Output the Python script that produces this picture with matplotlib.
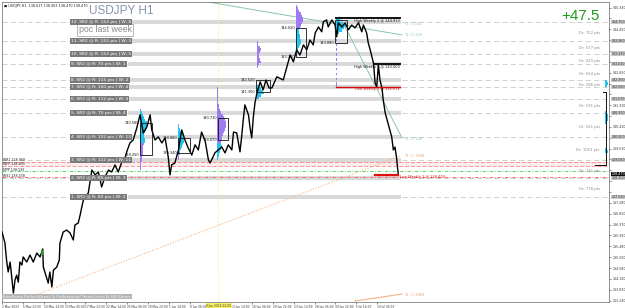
import matplotlib
matplotlib.use("Agg")
import matplotlib.pyplot as plt
from matplotlib.patches import Rectangle

plt.rcParams['font.family'] = ['Liberation Sans Narrow', 'DejaVu Sans']

# H1 bar number (since 2 May 2023) and price
bar_idx = [0, 9, 14, 19, 25, 35, 40, 45, 50, 55, 61, 65, 76, 86, 96, 107, 117, 125, 127,
           137, 142, 147, 153, 158, 168, 176, 178, 188, 199, 209, 219, 224, 234, 240, 245,
           250, 265, 276, 286, 296, 306, 316, 327, 337, 347, 357, 368, 378, 383, 393, 403,
           414, 424, 434, 445, 455, 460, 470, 480, 491, 501, 511, 516, 521, 531, 542, 552,
           562, 572, 583, 593, 603, 613, 624, 634, 639, 644, 654, 664, 675, 685, 695, 706,
           711, 721, 731, 736, 741, 746, 757, 762, 767, 772, 777, 783, 793, 802, 811, 820,
           829, 844, 864, 875, 885, 895, 905, 915, 926, 936, 946, 956, 962, 972, 982, 987,
           997, 1002, 1013, 1023, 1028, 1033, 1044, 1054, 1064, 1074, 1084, 1095, 1105, 1110,
           1120, 1125, 1131, 1141, 1146, 1151, 1156, 1161, 1167, 1171, 1177, 1187, 1197, 1202,
           1207, 1212, 1217]
close = [136.07, 135.62, 134.91, 134.42, 134.83, 133.55, 134.09, 134.29, 134.00, 134.83,
         134.71, 135.04, 134.83, 135.12, 134.83, 135.20, 135.04, 135.37, 134.62, 134.17,
         133.96, 134.42, 133.80, 134.50, 134.62, 134.91, 135.62, 136.07, 136.15, 136.03,
         135.74, 136.36, 136.44, 136.77, 137.10, 137.39, 137.68, 138.63, 138.43, 138.55,
         137.93, 138.34, 138.63, 138.55, 138.84, 138.55, 138.96, 139.13, 139.38, 139.75,
         139.87, 140.37, 140.91, 140.16, 140.41, 140.91, 140.29, 139.87, 140.00, 139.75,
         139.96, 139.13, 138.43, 138.84, 138.92, 139.46, 140.29, 139.87, 139.54, 139.25,
         139.67, 139.46, 140.20, 139.83, 139.05, 138.92, 139.05, 139.34, 139.46, 139.58,
         139.34, 139.67, 139.46, 140.20, 140.16, 139.38, 140.00, 140.70, 141.32, 140.91,
         140.37, 139.96, 140.82, 141.40, 141.81, 142.27, 141.94, 142.35, 142.02, 142.02,
         142.48, 142.35, 142.89, 143.38, 143.10, 143.59, 143.38, 143.80, 143.59, 144.00,
         143.80, 144.29, 144.54, 144.34, 144.75, 144.83, 144.54, 144.83, 144.62, 144.13,
         144.71, 144.54, 144.71, 144.42, 144.62, 144.50, 144.71, 144.34, 144.62, 144.29,
         143.88, 143.59, 143.05, 142.23, 142.06, 142.97, 142.35, 142.02, 141.53, 140.99,
         140.49, 140.00, 139.46, 139.58, 139.13, 138.47]

time_labels = ["2 May 2023", "5 May 22:00", "10 May 14:00", "15 May 06:00", "17 May 22:00",
               "22 May 14:00", "25 May 06:00", "29 May 22:00", "1 Jun 14:00", "6 Jun 06:00",
               "8 Jun 22:00", "13 Jun 14:00", "16 Jun 06:00", "20 Jun 22:00", "23 Jun 14:00",
               "28 Jun 06:00", "30 Jun 22:00", "5 Jul 14:00", "10 Jul 06:00"]
price_ticks = [133.240, 133.690, 134.130, 134.580, 135.030, 135.480, 135.930, 136.370,
               136.820, 137.280, 137.720, 138.170, 138.620, 139.070, 139.510, 139.960,
               140.410, 140.860, 141.310, 141.760, 142.200, 142.650, 143.100, 143.550,
               144.000, 144.450, 144.890, 145.340]

zone_prices = [144.75, 143.96, 143.43, 143.01, 142.35, 142.06, 141.57, 140.99, 140.00,
               139.05, 138.30, 137.52]
zone_names = ["12. SR2 @ R: 152 pts | W: 8", "11. SR2 @ R: 152 pts | W: 3",
              "10. SR2 @ R: 152 pts | W: 5", "9. SR2 @ R: 70 pts | W: 1",
              "8. SR2 @ R: 115 pts | W: 2", "7. SR2 @ R: 100 pts | W: 4",
              "6. SR2 @ R: 112 pts | W: 4", "5. SR2 @ R: 70 pts | W: 4",
              "4. SR2 @ R: 102 pts | W: 13", "3. SR2 @ R: 112 pts | W: 11",
              "2. SR2 @ R: 85 pts | W: 3", "1. SR2 @ R: 80 pts | W: 2"]
last_price = 138.47

dr_prices = [144.29, 143.67, 143.14, 142.60, 142.15, 141.28, 140.41, 139.46, 138.59, 137.85]
dr_text = ["Dr: 752 pts", "Dr: 577 pts", "Dr: 420 pts", "Dr: 564 pts", "Dr: 286 pts",
           "Dr: 591 pts", "Dr: 561 pts", "Dr: 1053 pts", "Dr: 721 pts", "Dr: 778 pts"]

# rectangles: left bar, right bar, low, high, top label, bottom label
boxes = [
    (424, 461, 139.25, 140.57, "140.580", "139.250"),
    (541, 578, 139.34, 139.96, "139.960", "139.340"),
    (664, 694, 139.87, 140.78, "140.730", "139.870"),
    (780, 823, 141.86, 142.35, "142.520", "141.350"),
    (903, 934, 143.30, 144.50, "144.020", "143.300"),
    (1023, 1060, 143.88, 144.83, "", "143.880"),
]

# volume profiles: base bar, levels, widths in bars, value area (lo, hi)
p1_levels = [141.1, 141.0, 140.9, 140.8, 140.7, 140.6, 140.5, 140.4, 140.3, 140.2, 140.1, 140.0,
             139.9, 139.8, 139.7, 139.6, 139.5, 139.4, 139.3, 139.2, 139.1, 139.0, 138.9,
             138.8, 138.7, 138.6]
p1_widths = [3, 5, 8, 12, 16, 20, 24, 22, 19, 16, 13, 12, 14, 16, 12, 9, 8, 10, 8, 6, 5, 6, 4,
             3, 2, 1]
p2_levels = [140.5, 140.4, 140.3, 140.2, 140.1, 140.0, 139.9, 139.8, 139.7, 139.6, 139.5,
             139.4, 139.3, 139.2, 139.1, 139.0]
p2_widths = [2, 4, 6, 10, 14, 18, 21, 19, 16, 12, 9, 7, 5, 4, 2, 1]
p3_levels = [142.0, 141.9, 141.8, 141.7, 141.6, 141.5, 141.4, 141.3, 141.2, 141.1, 141.0,
             140.9, 140.8, 140.7, 140.6, 140.5, 140.4, 140.3, 140.2, 140.1, 140.0, 139.9,
             139.8, 139.7, 139.6, 139.5, 139.4, 139.3, 139.2, 139.1]
p3_widths = [2, 2, 2, 2, 2, 3, 3, 4, 6, 9, 13, 17, 21, 24, 26, 27, 26, 24, 21, 18, 16, 14, 12,
             13, 15, 12, 9, 6, 4, 2]
p4_levels = [143.9, 143.8, 143.7, 143.6, 143.5, 143.4, 143.3, 143.2, 143.1, 143.0, 142.9,
             142.1, 142.0, 141.9, 141.8, 141.7, 141.6]
p4_widths = [2, 4, 8, 12, 9, 6, 5, 8, 11, 7, 3, 6, 12, 18, 22, 14, 6]
p5_levels = [145.4, 145.3, 145.2, 145.1, 145.0, 144.9, 144.8, 144.7, 144.6, 144.5, 144.4,
             144.3, 144.2, 144.1, 144.0, 143.9, 143.8, 143.7, 143.6, 143.5, 143.4]
p5_widths = [3, 6, 10, 14, 17, 20, 21, 18, 14, 12, 10, 9, 11, 13, 15, 14, 11, 8, 6, 4, 2]
p6_levels = [144.9, 144.8, 144.7, 144.6, 144.5, 144.4, 144.3, 144.2, 144.0, 143.8, 143.6,
             143.4, 143.2, 143.0, 142.8, 142.6, 142.4, 142.2, 142.1]
p6_widths = [2, 12, 22, 30, 26, 18, 10, 4, 2, 2, 2, 2, 2, 2, 2, 2, 2, 2, 2]
p7_levels = [142.3, 142.2, 142.1, 141.0, 140.9, 140.8, 140.7, 140.6, 139.5, 139.4]
p7_widths = [6, 8, 5, 4, 7, 9, 8, 5, 6, 8]
profiles = [
    (424, p1_levels, p1_widths, (139.8, 141.0)),
    (541, p2_levels, p2_widths, (139.4, 140.4)),
    (661, p3_levels, p3_widths, (139.1, 139.7)),
    (783, p4_levels, p4_widths, (141.6, 142.1)),
    (903, p5_levels, p5_widths, (143.3, 144.4)),
    (1026, p6_levels, p6_widths, (144.3, 144.8)),
    (1853, p7_levels, p7_widths, (139.0, 143.0)),
]

PURPLE = "#a07cf3"
CYAN = "#22c4ee"
SMALL = 2.5

fig = plt.figure(figsize=(6.25, 3.08), dpi=100)
ax = fig.add_axes([0.0032, 0.0195, 0.9715, 0.974])
ax.set_xlim(0, 1865)
ax.set_ylim(133.18, 145.57)

# dashed zone lines over the full width, bands over the history
for p in zone_prices:
    ax.axhline(p, color="#c8c8c8", lw=0.6, ls=(0, (6, 4)), zorder=1)
    ax.fill_between([387, 1225], p - 0.09, p + 0.09, color="#d9d9d9", lw=0, zorder=1)
for p, name in zip(zone_prices, zone_names):
    ax.text(212, p, name, fontsize=3.2, color="white", ha="left", va="center", zorder=6,
            bbox=dict(boxstyle="square,pad=0.25", fc="#7a7a7a", ec="none"))

# pivot style lines
ax.fill_between([0, 1865], 138.80, 138.96, color="#fdeaea", lw=0, zorder=1)
ax.axhline(138.96, color="#f08a8a", lw=0.6, ls=(0, (5, 2)), zorder=2)
ax.axhline(138.80, color="#f08a8a", lw=0.6, ls=(0, (5, 2)), zorder=2)
ax.axhline(138.59, color="#3ccf3c", lw=0.6, ls=(0, (4, 2, 1, 2)), zorder=2)
ax.axhline(138.34, color="#ff5050", lw=0.6, ls=(0, (4, 2, 1, 2)), zorder=2)
for p, t in zip([139.03, 138.88, 138.64, 138.40],
                ["WR1 138.968", "WPP 138.803", "MPP 138.592", "WS1 138.338"]):
    ax.text(4, p, t, fontsize=2.3, color="#222222", va="center", zorder=6)

# time crosshair
ax.axvline(664, color="#f6f07a", lw=0.8, ls=(0, (1, 1.5)), zorder=2)

# volume profiles
for base, levels, widths, (lo, hi) in profiles:
    cols = [CYAN if lo <= lv <= hi else PURPLE for lv in levels]
    ax.barh(levels, widths, left=base, height=0.1, color=cols, lw=0, zorder=3)

for l, r, lo, hi, t_top, t_bot in boxes:
    ax.add_patch(Rectangle((l, lo), r - l, hi - lo, fill=False, ec="#111111", lw=0.6, zorder=5))
    if t_top:
        ax.text(l - 3, hi, t_top, fontsize=SMALL, ha="right", va="center", color="#111111", zorder=6)
    ax.text(l - 3, lo, t_bot, fontsize=SMALL, ha="right", va="center", color="#111111", zorder=6)

# trend lines
ax.plot([86, 1223], [133.38, 139.21], color="#f4b383", lw=0.8, ls=(0, (1, 1.5)), zorder=2)
ax.plot([1084, 1229], [133.22, 133.51], color="#f4b383", lw=0.8, zorder=2)
ax.plot([633, 1229], [145.57, 144.21], color="#8cc7a6", lw=0.7, zorder=2)
ax.plot([1038, 1229], [144.96, 139.95], color="#8cc7a6", lw=0.7, zorder=2)
for p, t, c in [(144.67, "T3 | 1.061", "#8cc7a6"), (144.21, "T1 | 1.205", "#8cc7a6"),
                (139.95, "T2 | 1.198", "#8cc7a6"), (139.21, "T2 | 1.1688", "#f0a070"),
                (133.51, "T2 | 1.3069", "#f0a070")]:
    ax.text(1235, p, t, fontsize=SMALL, color=c, va="center", zorder=6)

# weekly highs / lows
ax.plot([1026, 1223], [144.913, 144.913], color="#111111", lw=1.4, zorder=5)
ax.plot([1146, 1223], [143.000, 143.000], color="#111111", lw=1.4, zorder=5)
ax.plot([1026, 1223], [142.071, 142.071], color="#d01010", lw=1.0, zorder=5)
ax.plot([1146, 1217], [138.43, 138.43], color="#e01010", lw=1.6, zorder=5)
ax.text(1223, 144.80, "High Weekly 2 @ 144.913", fontsize=SMALL, ha="right", va="center", color="#111111")
ax.text(1223, 142.89, "High Weekly 1 @ 143.000", fontsize=SMALL, ha="right", va="center", color="#111111")
ax.text(1223, 141.96, "Low Weekly 2 @ 142.071", fontsize=SMALL, ha="right", va="center", color="#d01010")
ax.text(1222, 138.33, "Low Weekly 1 @ 138.429", fontsize=SMALL, ha="left", va="center", color="#d01010")

# price
ax.plot(bar_idx, close, color="black", lw=1.0, zorder=4)
ax.plot([123, 123], [135.15, 135.30], color="#1aa01a", lw=1.5, zorder=5)

# current week bracket near the right edge
ax.plot([1845, 1855, 1855, 1820], [141.85, 141.85, 138.85, 138.85], color="#111111", lw=0.7, zorder=5)

for p, t in zip(dr_prices, dr_text):
    ax.text(1836, p, t, fontsize=2.7, color="#8a8a8a", ha="right", va="center", zorder=6)

ax.text(0.197, 0.97, "USDJPY H1", transform=ax.transAxes, fontsize=8.5, color="#8494ad",
        ha="center", va="center", family="Liberation Sans")
ax.text(0.984, 0.955, "+47.5", transform=ax.transAxes, fontsize=11, color="#1f9a1f",
        ha="right", va="center", family="Liberation Sans")
ax.text(0.17, 0.907, "poc last week", transform=ax.transAxes, fontsize=6.3, color="#8a8a8a",
        ha="center", va="center", family="Liberation Sans",
        bbox=dict(boxstyle="square,pad=0.15", fc="white", ec="#9a9a9a", lw=0.5))
ax.text(0.004, 0.992, "\u25a0 USDJPY,H1  138.617 138.903 138.470 138.470", transform=ax.transAxes,
        fontsize=2.4, color="#222222", ha="left", va="top")
ax.text(0.002, 0.018, "EuroForex PerfectZones & Professional Trend Lines & S/R Zones",
        transform=ax.transAxes, fontsize=2.9, color="#f4f4f4", ha="left", va="center",
        bbox=dict(boxstyle="square,pad=0.2", fc="#b5b5b5", ec="none"))

# axes
ax.set_xticks([i * 64 for i in range(len(time_labels))])
ax.set_xticklabels(time_labels, fontsize=2.1, ha="left")
ax.get_xticklabels()[10].set_visible(False)  # hidden under the crosshair time label
ax.yaxis.tick_right()
ax.set_yticks(price_ticks)
ax.set_yticklabels([f"{p:.3f}" for p in price_ticks], fontsize=2.3)
highlighted = zone_prices + [last_price]
for lab, p in zip(ax.get_yticklabels(), price_ticks):
    if min(abs(p - h) for h in highlighted) < 0.2:
        lab.set_visible(False)
ax.tick_params(length=1.5, width=0.4, pad=0.8, colors="#333333")
for s in ax.spines.values():
    s.set_color("#808080")
    s.set_linewidth(0.6)

ytr = ax.get_yaxis_transform()
for p in zone_prices:
    ax.text(1.004, p, f"{p:.3f}", transform=ytr, fontsize=2.3, color="#333333", va="center",
            clip_on=False, bbox=dict(boxstyle="square,pad=0.1", fc="#c8c8c8", ec="none"))
ax.text(1.004, last_price, f"{last_price:.3f}", transform=ytr, fontsize=2.3, color="white",
        va="center", clip_on=False, bbox=dict(boxstyle="square,pad=0.1", fc="#111111", ec="none"))
ax.text(666, -0.006, "9 Jun 2023 22:00", transform=ax.get_xaxis_transform(), fontsize=2.1,
        color="#333333", ha="center", va="top", clip_on=False,
        bbox=dict(boxstyle="square,pad=0.2", fc="#f8f060", ec="none"))

fig.savefig("out.png", dpi=100)
